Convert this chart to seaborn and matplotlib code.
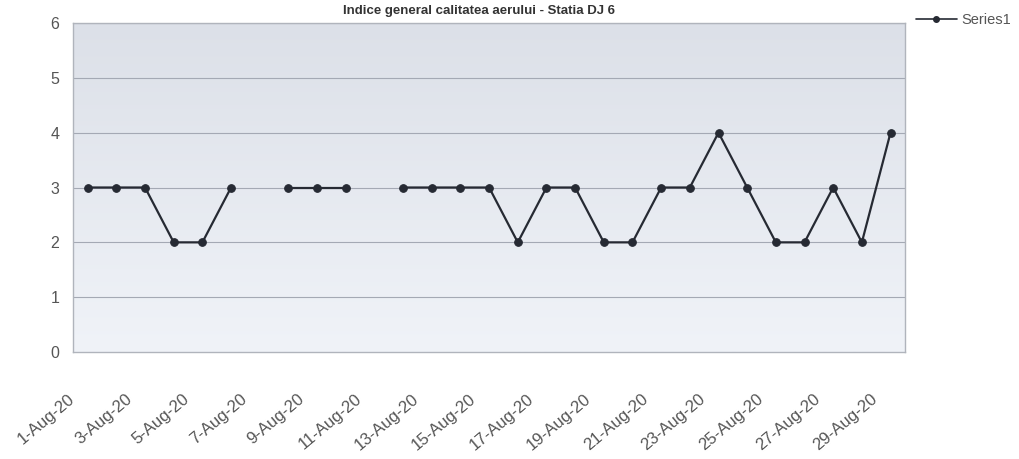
import numpy as np
import pandas as pd
import matplotlib.pyplot as plt
import seaborn as sns
from matplotlib.lines import Line2D
from matplotlib.transforms import ScaledTranslation

# --- data ---
days = list(range(1, 30))
values = [3, 3, 3, 2, 2, 3, np.nan, 3, 3, 3, np.nan, 3, 3, 3, 3, 2, 3, 3, 2, 2,
          3, 3, 4, 3, 2, 2, 3, 2, 4]
tick_days = list(range(1, 30, 2))
tick_labels = [f"{d}-Aug-20" for d in tick_days]
title = "Indice general calitatea aerului - Statia DJ 6"
series_name = "Series1"

df = pd.DataFrame({"day": days, "value": values})
# segment id so the missing days break the line
df["seg"] = df["value"].isna().cumsum()
df = df.dropna()

sns.set_style("white")
plt.rcParams['font.family'] = ['Liberation Sans', 'DejaVu Sans']

fig = plt.figure(figsize=(10.19, 4.59), dpi=100)
ax = fig.add_axes([0.072, 0.233, 0.816, 0.717])

# grey-blue gradient background like the Excel plot area (darker at top)
grad = np.linspace(0, 1, 256).reshape(-1, 1)
ax.imshow(grad, extent=[0.5, 29.5, 0, 6], aspect="auto", origin="upper",
          cmap=sns.blend_palette(["#dce0e8", "#f0f3f8"], as_cmap=True), zorder=0)

for y in range(1, 7):
    ax.axhline(y, color="#a4a9b4", lw=0.8, zorder=1)

sns.lineplot(data=df, x="day", y="value", units="seg", estimator=None,
             color="#262a33", lw=1.6, marker="o", markersize=5.5,
             markeredgecolor="#262a33", ax=ax, legend=False, zorder=3)

ax.set_xlim(0.5, 29.5)
ax.set_ylim(0, 6)
ax.set_yticks(range(0, 7))
ax.set_yticklabels([str(i) for i in range(0, 7)], fontsize=11.5, color="#555555")
ax.set_xticks(tick_days)
ax.set_xticklabels(tick_labels, rotation=40, ha="right", rotation_mode="anchor",
                   fontsize=12, color="#555555")
ax.tick_params(axis="x", length=0, pad=14)
ax.tick_params(axis="y", length=0, pad=10)
# Excel puts the label ends a bit left of and below the category centre
shift = ScaledTranslation(-20 / 100, -20 / 100, fig.dpi_scale_trans)
for lab in ax.get_xticklabels():
    lab.set_transform(lab.get_transform() + shift)
ax.set_xlabel("")
ax.set_ylabel("")
for s in ax.spines.values():
    s.set_color("#b0b4bc")
    s.set_linewidth(1.0)

fig.text(0.47, 0.99, title, ha="center", va="top", fontsize=9.5,
         fontweight="bold", color="#333333")

handle = Line2D([], [], color="#262a33", lw=1.2, marker="o", markersize=4)
fig.legend([handle], [series_name], loc="upper right", bbox_to_anchor=(1.005, 1.0),
           frameon=False, fontsize=10.5, handlelength=2.8, handletextpad=0.3,
           labelcolor="#555555")

fig.savefig("out.png", dpi=100)
